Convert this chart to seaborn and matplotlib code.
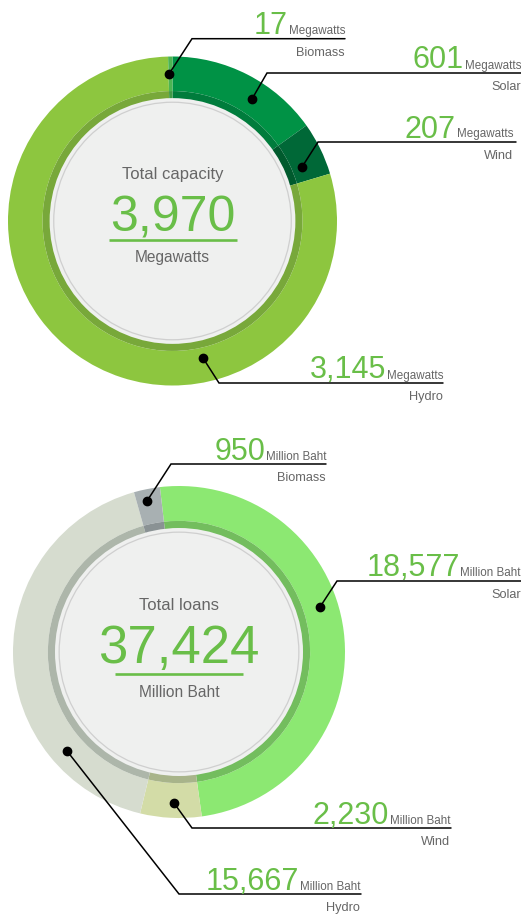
import numpy as np
import pandas as pd
import seaborn as sns
from matplotlib import pyplot as plt
from matplotlib.patches import Circle

# data
sources = ["Solar", "Wind", "Hydro", "Biomass"]
capacity_mw = [601, 207, 3145, 17]
loans_mthb = [18577, 2230, 15667, 950]

sns.set_theme(style="white")
plt.rcParams['font.family'] = ['Liberation Sans', 'DejaVu Sans']

W, H = 521, 918
GREEN_TXT = "#69be48"
GRAY_TXT = "#666666"


def Y(y):
    # image pixel row -> data y
    return H - y


fig = plt.figure(figsize=(W / 100, H / 100), dpi=100)
ax = fig.add_axes([0, 0, 1, 1])
renderer = fig.canvas.get_renderer()

charts = [
    dict(values=capacity_mw, unit="Megawatts", title="Total capacity",
         center=(172.5, 221), radius=164.5, start=90,
         outer=["#009245", "#006837", "#8dc63f", "#4cb552"],
         inner=["#007c3c", "#005a2d", "#78a83a", "#3f9a45"],
         num_size=36, txt_y=(179, 232, 240, 262),
         # dot, elbow, line end, text end  (image px)
         leaders=[((252, 99), (267, 73), 521, 521),
                  ((302, 167), (318, 142), 516, 513),
                  ((203, 358), (219, 383), 443, 443),
                  ((169, 74), (192, 38.7), 345, 345)]),
    dict(values=loans_mthb, unit="Million Baht", title="Total loans",
         center=(179, 652), radius=166, start=96.6,
         outer=["#8ce872", "#d3dca7", "#d6dccf", "#a8b0b2"],
         inner=["#73bd5e", "#a8b48a", "#adb6aa", "#8a9294"],
         num_size=38, txt_y=(610, 663, 674, 697),
         leaders=[((320, 607), (337, 581), 521, 521),
                  ((174, 803), (192, 828), 451, 450),
                  ((67, 751), (179, 894), 361, 360),
                  ((147, 501), (171, 464), 326, 326)]),
]

# rings first (pie resets the limits)
for ch in charts:
    cx, cy = ch["center"][0], Y(ch["center"][1])
    R = ch["radius"]
    ax.pie(ch["values"], radius=R, center=(cx, cy), colors=ch["outer"],
           startangle=ch["start"], counterclock=False,
           wedgeprops=dict(width=R * 0.21, linewidth=0))
    ax.pie(ch["values"], radius=R * 0.79, center=(cx, cy), colors=ch["inner"],
           startangle=ch["start"], counterclock=False,
           wedgeprops=dict(width=R * 0.05, linewidth=0))
    ax.add_patch(Circle((cx, cy), R * 0.747, facecolor="#eff0ef", edgecolor="none", zorder=3))
    ax.add_patch(Circle((cx, cy), R * 0.722, facecolor="none", edgecolor="#cfcfcf",
                        linewidth=0.9, zorder=4))

ax.set_xlim(0, W)
ax.set_ylim(0, H)
ax.set_aspect("equal")
ax.axis("off")

for ch in charts:
    cx, cy = ch["center"][0], Y(ch["center"][1])
    df = pd.DataFrame({"source": sources, "value": ch["values"]})

    t_title, t_num, t_line, t_unit = ch["txt_y"]
    total = df["value"].sum()
    ax.text(cx, Y(t_title), ch["title"], ha="center", va="baseline", fontsize=12,
            color=GRAY_TXT, zorder=5)
    ax.text(cx, Y(t_num), f"{total:,}", ha="center", va="baseline",
            fontsize=ch["num_size"], color=GREEN_TXT, zorder=5)
    ax.plot([cx - 64, cx + 64], [Y(t_line), Y(t_line)], color=GREEN_TXT, lw=1.9,
            solid_capstyle="butt", zorder=5)
    ax.text(cx, Y(t_unit), ch["unit"], ha="center", va="baseline", fontsize=11.2,
            color=GRAY_TXT, zorder=5)

    # leader labels
    for name, val, (dot, elbow, xend, xtxt) in zip(df["source"], df["value"], ch["leaders"]):
        ax.plot([dot[0], elbow[0], xend], [Y(dot[1]), Y(elbow[1]), Y(elbow[1])],
                color="black", lw=1.1, zorder=6, solid_joinstyle="miter")
        ax.plot(dot[0], Y(dot[1]), "o", color="black", markersize=6, zorder=7)
        u = ax.text(xtxt, Y(elbow[1] - 4.5), ch["unit"], ha="right", va="baseline",
                    fontsize=8.4, color=GRAY_TXT, zorder=6)
        bb = u.get_window_extent(renderer).transformed(ax.transData.inverted())
        ax.text(bb.x0 - 0.5, Y(elbow[1] - 4.5), f"{val:,}", ha="right", va="baseline",
                fontsize=22, color=GREEN_TXT, zorder=6)
        ax.text(xtxt, Y(elbow[1] + 17), name, ha="right", va="baseline",
                fontsize=9.2, color=GRAY_TXT, zorder=6)

fig.savefig("out.png", dpi=100, facecolor="white")
